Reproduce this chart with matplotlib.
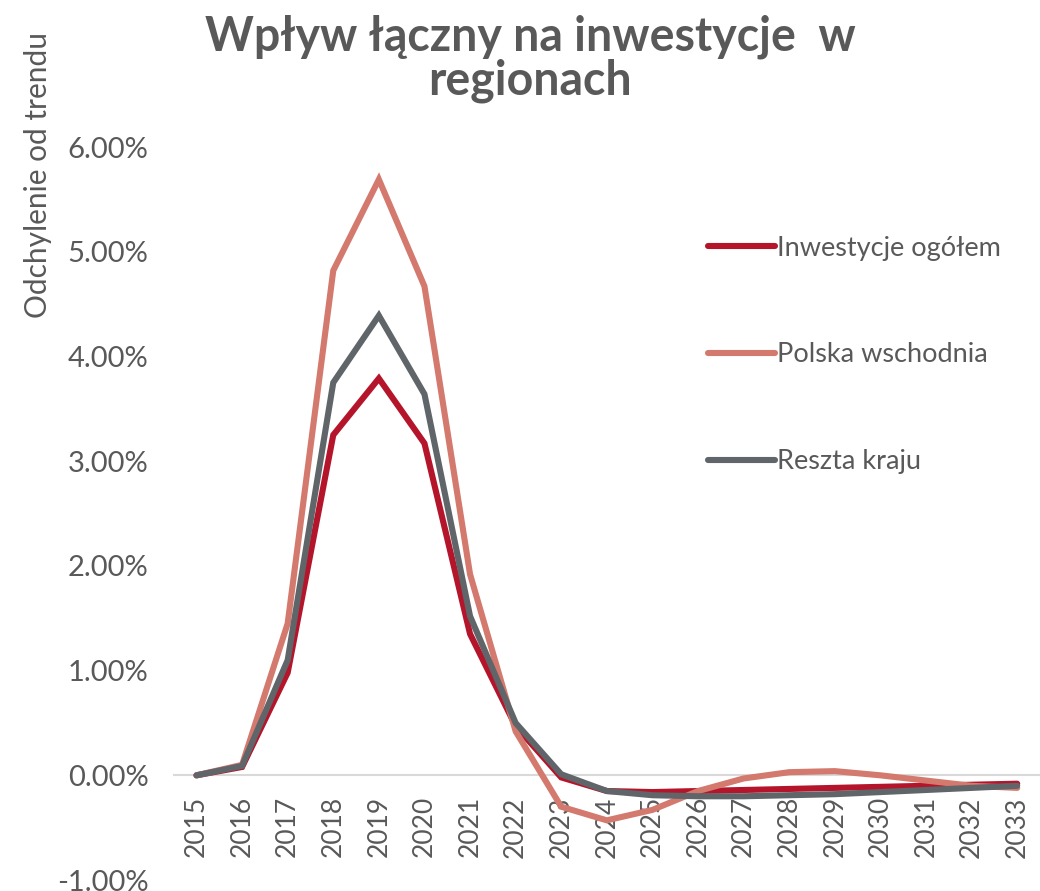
import numpy as np
import matplotlib.pyplot as plt
from matplotlib.ticker import FuncFormatter

# data (percent deviation from trend)
years = [str(y) for y in range(2015, 2034)]
inwestycje = [0.00, 0.08, 0.98, 3.25, 3.79, 3.17, 1.35, 0.47, -0.02, -0.15,
              -0.16, -0.15, -0.14, -0.13, -0.12, -0.11, -0.10, -0.09, -0.08]
wschodnia = [0.00, 0.10, 1.45, 4.82, 5.69, 4.67, 1.92, 0.42, -0.30, -0.43,
             -0.33, -0.15, -0.03, 0.03, 0.04, 0.00, -0.05, -0.10, -0.12]
reszta = [0.00, 0.09, 1.10, 3.75, 4.39, 3.64, 1.52, 0.50, 0.01, -0.15,
          -0.19, -0.20, -0.20, -0.19, -0.18, -0.16, -0.14, -0.12, -0.10]
labels = ["Inwestycje ogółem", "Polska wschodnia", "Reszta kraju"]
colors = ["#B5152B", "#D4796D", "#5F6568"]

plt.rcParams['font.family'] = ['Lato', 'DejaVu Sans']
txt = "#595959"

fig = plt.figure(figsize=(10.4, 8.91), dpi=100)
ax = fig.add_axes([0.167, 0.0123, 0.833, 0.8227])

x = np.arange(len(years))
for vals, lab, col in zip([inwestycje, wschodnia, reszta], labels, colors):
    ax.plot(x, vals, color=col, lw=4.4, label=lab, solid_joinstyle='miter',
            solid_capstyle='round')

ax.set_xlim(-0.5, len(years) - 0.5)
ax.set_ylim(-1, 6)

# x axis sits on the zero line
for s in ['top', 'right', 'left']:
    ax.spines[s].set_visible(False)
ax.spines['bottom'].set_position(('data', 0))
ax.spines['bottom'].set_color('#D9D9D9')
ax.spines['bottom'].set_linewidth(1.5)
ax.spines['bottom'].set_zorder(0)

ax.set_yticks(np.arange(-1, 7, 1))
ax.yaxis.set_major_formatter(FuncFormatter(lambda v, p: f"{v:.2f}%"))
ax.set_xticks(x)
ax.set_xticklabels(years)
ax.tick_params(axis='both', length=0, labelcolor=txt)
ax.tick_params(axis='x', pad=15, labelsize=19, labelrotation=90)
ax.tick_params(axis='y', pad=18, labelsize=21)

fig.text(0.51, 0.934, "Wpływ łączny na inwestycje  w\nregionach", ha='center',
         va='center', fontsize=33.5, fontweight='bold', color=txt, linespacing=1.0)
fig.text(0.037, 0.804, "Odchylenie od trendu", rotation=90, ha='center',
         va='center', fontsize=21.5, color=txt)

leg = ax.legend(loc='upper left', bbox_to_anchor=(0.657, 0.763),
                bbox_transform=fig.transFigure, frameon=False, fontsize=19.5,
                labelspacing=3.02, handlelength=2.5, handletextpad=0.05)
for t in leg.get_texts():
    t.set_color(txt)

fig.savefig("out.png", dpi=100)
